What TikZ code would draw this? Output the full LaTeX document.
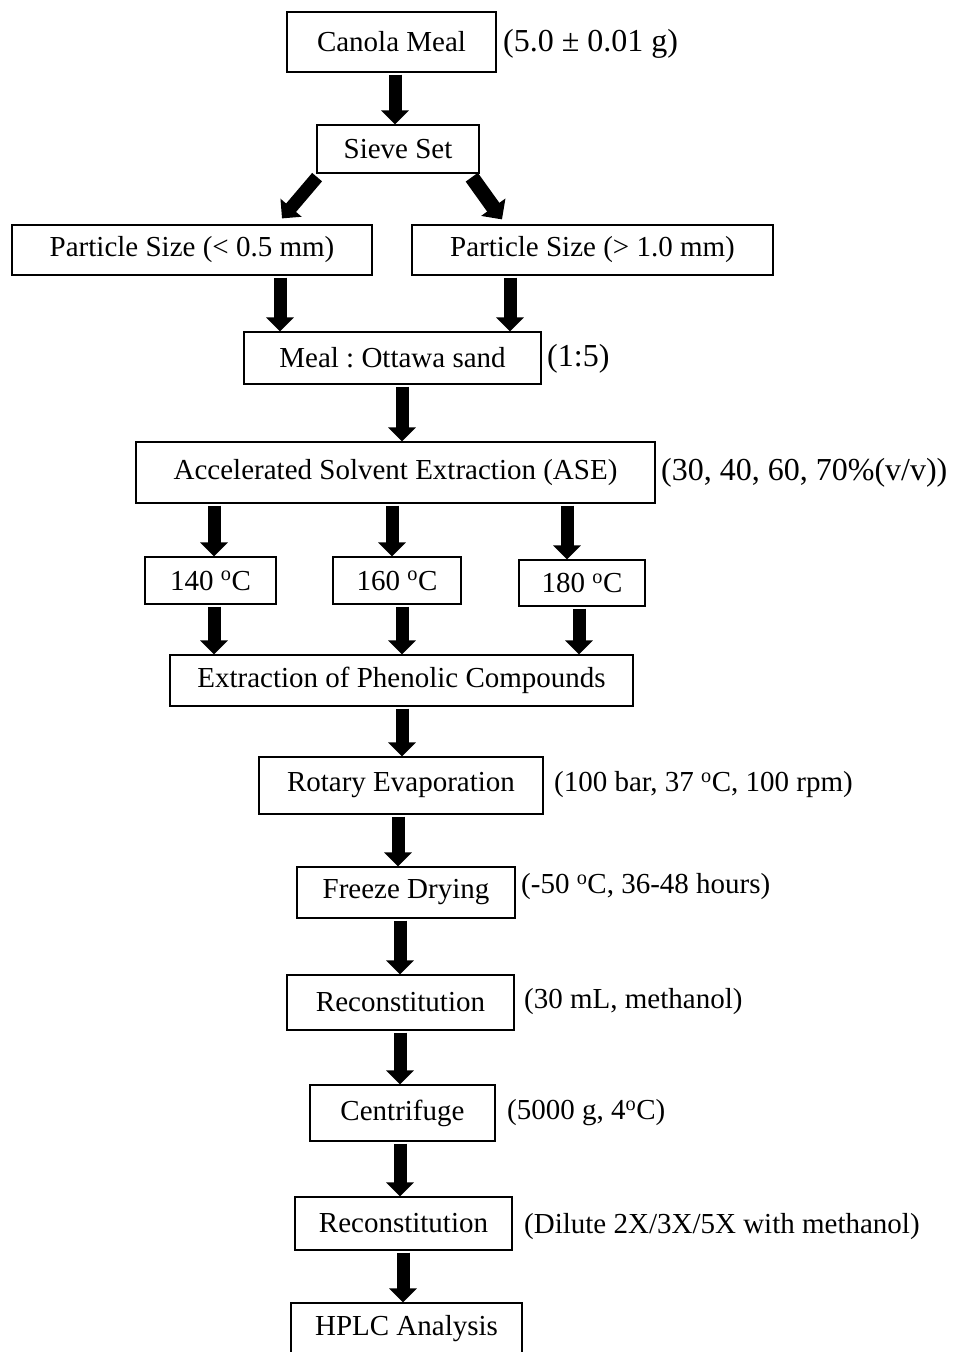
\documentclass[tikz,border=0pt]{standalone}
\usepackage{fontspec}
\setmainfont{Liberation Serif}
\usetikzlibrary{arrows.meta,calc}
\newcommand{\dg}{\textsuperscript{o}C}
\frenchspacing
\begin{document}
\begin{tikzpicture}[x=1pt,y=-1pt,
	every node/.style={font=\fontsize{29}{34}\selectfont},
	box/.style={draw, line width=1.2pt, inner sep=0pt},
	note/.style={anchor=west, inner sep=0pt},
	bignote/.style={note, font=\fontsize{32}{38}\selectfont},
	blk/.style={-{Triangle[width=27pt,length=14pt]}, line width=13pt, shorten <=2pt}]
	\useasboundingbox (0,0) rectangle (953,1352);
	\clip (0,0) rectangle (953,1352);
	% boxes
	\node[box, minimum width=209, minimum height=60] (meal) at (391.5,42) {Canola Meal};
	\node[box, minimum width=162, minimum height=48] (sieve) at (398,149) {Sieve Set};
	\node[box, minimum width=360, minimum height=50] (plo) at (192,250) {Particle Size (< 0.5 mm)};
	\node[box, minimum width=361, minimum height=50] (phi) at (592.5,250) {Particle Size (> 1.0 mm)};
	\node[box, minimum width=297, minimum height=52] (mix) at (392.5,358) {Meal : Ottawa sand};
	\node[box, minimum width=519, minimum height=61] (ase) at (395.5,472.5) {Accelerated Solvent Extraction (ASE)};
	\node[box, minimum width=131, minimum height=47] (t140) at (210.5,580.5) {140 \dg};
	\node[box, minimum width=128, minimum height=47] (t160) at (397,580.5) {160 \dg};
	\node[box, minimum width=126, minimum height=46] (t180) at (582,583) {180 \dg};
	\node[box, minimum width=463, minimum height=51] (ext) at (401.5,680.5) {Extraction of Phenolic Compounds};
	\node[box, minimum width=284, minimum height=57] (rot) at (401,785.5) {Rotary Evaporation};
	\node[box, minimum width=218, minimum height=51] (frz) at (406,892.5) {Freeze Drying};
	\node[box, minimum width=227, minimum height=55] (rec) at (400.5,1002.5) {Reconstitution};
	\node[box, minimum width=185, minimum height=56] (cen) at (402.5,1113) {Centrifuge};
	\node[box, minimum width=217, minimum height=53] (rdl) at (403.5,1223.5) {Reconstitution};
	\node[box, minimum width=231, minimum height=52] (hplc) at (406.5,1329) {HPLC Analysis};
	% conditions
	\node[bignote] (nmeal) at (503,44) {(5.0 ± 0.01 g)};
	\node[bignote] (nmix) at (547,359) {(1:5)};
	\node[bignote] (nase) at (661,473) {(30, 40, 60, 70\%(v/v))};
	\node[note] (nrot) at (554,785) {(100 bar, 37 \dg, 100 rpm)};
	\node[note] (nfrz) at (521,887) {(-50 \dg, 36-48 hours)};
	\node[note] (nrec) at (524,1002) {(30 mL, methanol)};
	\node[note] (ncen) at (507,1113) {(5000 g, 4\dg)};
	\node[note] (nrdl) at (524,1227) {(Dilute 2X/3X/5X with methanol)};
	% arrows
	\draw[blk] ($(sieve.south west)+(2,2)$) -- ($(plo.north)+(90,-6)$);
	\draw[blk, line width=15pt, -{Triangle[width=29pt,length=15pt]}] ($(sieve.south east)+(-9,2)$) -- ($(phi.north)+(-90.5,-5)$);
	\foreach \a/\b/\x in {meal/sieve/395, plo/mix/280, phi/mix/510, mix/ase/402,
		ase/t140/214, ase/t160/392, ase/t180/567,
		t140/ext/214, t160/ext/402, t180/ext/579,
		ext/rot/402, rot/frz/398, frz/rec/400, rec/cen/400, cen/rdl/400, rdl/hplc/403}
		\draw[blk] (\a.south -| \x,0) -- (\b.north -| \x,0);
\end{tikzpicture}
\end{document}
